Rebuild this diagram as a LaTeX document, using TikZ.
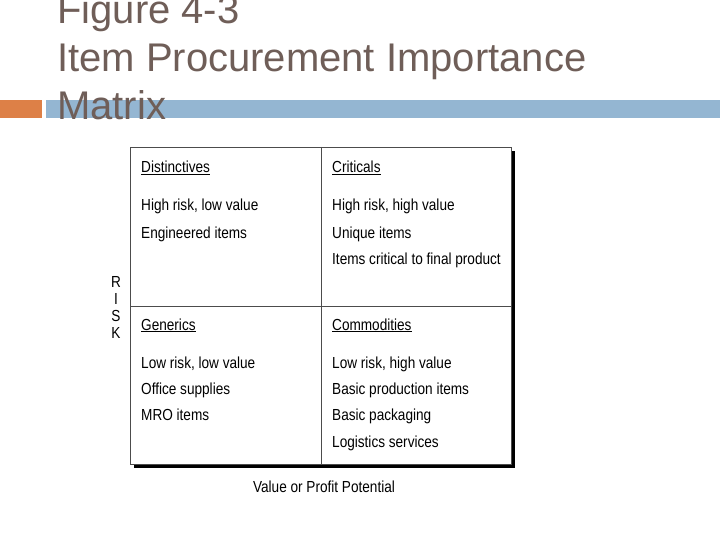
\documentclass[tikz,border=0pt]{standalone}
\usepackage{fontspec}
\setmainfont{Liberation Sans}
\newfontfamily\cellfont[FakeStretch=0.85]{Liberation Sans}
\definecolor{titlecol}{HTML}{6F5E58}
\definecolor{barorange}{HTML}{DD8047}
\definecolor{barblue}{HTML}{94B6D2}
\tikzset{
  titletext/.style={anchor=base west, inner sep=0pt, text=titlecol, font=\fontsize{40}{48}\selectfont},
  celltext/.style={anchor=base west, inner sep=0pt, font=\cellfont\fontsize{16}{18}\selectfont},
  axistext/.style={anchor=base, inner sep=0pt, font=\cellfont\fontsize{16}{18}\selectfont},
}
\begin{document}
\begin{tikzpicture}[x=1pt,y=-1pt]
\path[use as bounding box, fill=white] (0,0) rectangle (720,540);
% bars
\fill[barorange] (0,100) rectangle (42,118);
\fill[barblue] (46,100) rectangle (720,118);
% title
\node[titletext] (t1) at (57,24) {Figure 4-3};
\node[titletext] (t2) at (57,72) {Item Procurement Importance};
\node[titletext] (t3) at (57,120) {Matrix};
% matrix box with shadow
\fill[black] (134,151) rectangle (515,468);
\draw[black!70, line width=0.8pt, fill=white] (130,147) rectangle (511,464);
\draw[black!70, line width=0.8pt] (321,147) -- (321,464);
\draw[black!70, line width=0.8pt] (130,306) -- (511,306);
% top-left
\node[celltext] (d1) at (141,173) {\underline{Distinctives}};
\node[celltext] (d2) at (141,211) {High risk, low value};
\node[celltext] (d3) at (141,238) {Engineered items};
% top-right
\node[celltext] (c1) at (332,173) {\underline{Criticals}};
\node[celltext] (c2) at (332,211) {High risk, high value};
\node[celltext] (c3) at (332,238) {Unique items};
\node[celltext] (c4) at (332,264) {Items critical to final product};
% bottom-left
\node[celltext] (g1) at (141,330) {\underline{Generics}};
\node[celltext] (g2) at (141,368) {Low risk, low value};
\node[celltext] (g3) at (141,394) {Office supplies};
\node[celltext] (g4) at (141,420) {MRO items};
% bottom-right
\node[celltext] (m1) at (332,330) {\underline{Commodities}};
\node[celltext] (m2) at (332,368) {Low risk, high value};
\node[celltext] (m3) at (332,394) {Basic production items};
\node[celltext] (m4) at (332,420) {Basic packaging};
\node[celltext] (m5) at (332,447) {Logistics services};
% axes
\node[axistext] (r1) at (116,287) {R};
\node[axistext] (r2) at (116,304) {I};
\node[axistext] (r3) at (116,321) {S};
\node[axistext] (r4) at (116,338) {K};
\node[axistext] (vx) at (324,492) {Value or Profit Potential};
\end{tikzpicture}
\end{document}
